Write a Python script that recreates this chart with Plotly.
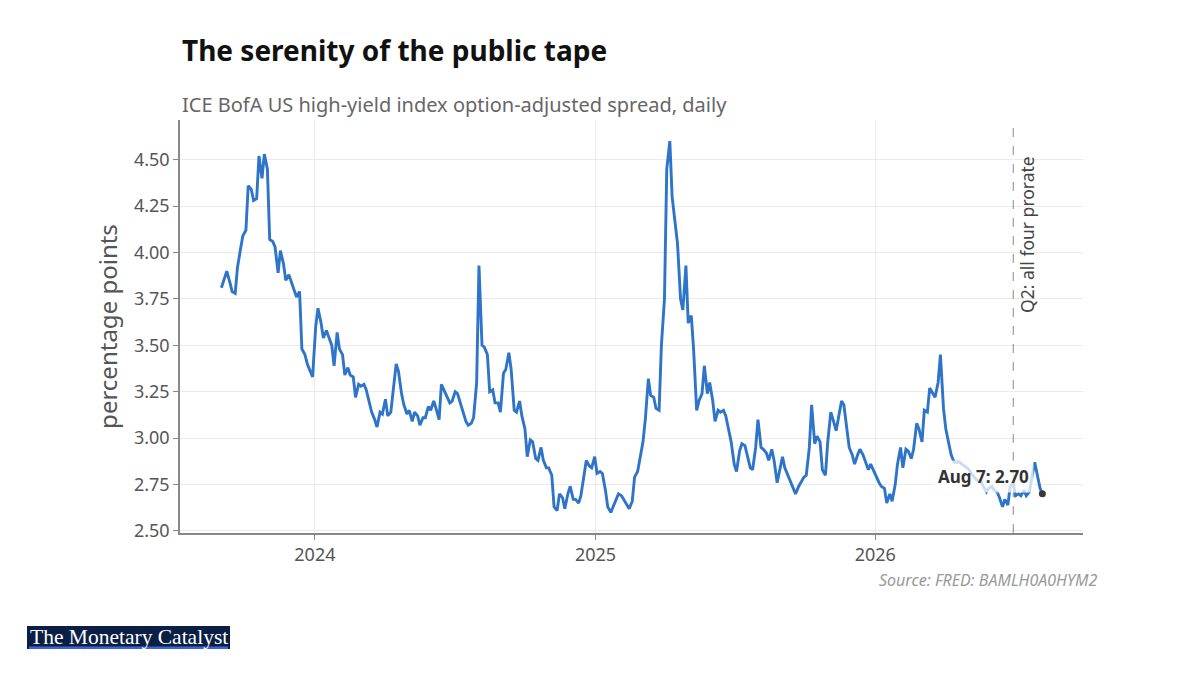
import pandas as pd
import plotly.graph_objects as go

# twice-weekly readings (Tue / Fri) of the daily HY OAS
start_date = "2023-09-01"
end_date = "2026-08-07"
spread = [
    3.81, 3.86, 3.90, 3.84, 3.79, 3.78, 3.92, 4.02, 4.09, 4.12,
    4.36, 4.34, 4.28, 4.29, 4.52, 4.40, 4.53, 4.45, 4.07, 4.06,
    4.03, 3.89, 4.01, 3.94, 3.85, 3.88, 3.84, 3.79, 3.76, 3.79,
    3.48, 3.45, 3.40, 3.36, 3.33, 3.60, 3.70, 3.62, 3.54, 3.58,
    3.54, 3.50, 3.39, 3.57, 3.48, 3.45, 3.34, 3.38, 3.34, 3.33,
    3.22, 3.29, 3.28, 3.29, 3.26, 3.20, 3.14, 3.10, 3.06, 3.14,
    3.13, 3.21, 3.12, 3.14, 3.24, 3.40, 3.36, 3.24, 3.18, 3.13,
    3.15, 3.09, 3.14, 3.12, 3.07, 3.11, 3.11, 3.17, 3.15, 3.20,
    3.16, 3.10, 3.29, 3.25, 3.22, 3.19, 3.20, 3.25, 3.24, 3.19,
    3.14, 3.09, 3.07, 3.08, 3.11, 3.30, 3.93, 3.50, 3.49, 3.45,
    3.25, 3.26, 3.19, 3.19, 3.14, 3.35, 3.37, 3.46, 3.37, 3.15,
    3.14, 3.20, 3.12, 3.05, 2.90, 2.99, 2.98, 2.89, 2.88, 2.95,
    2.88, 2.84, 2.84, 2.80, 2.63, 2.61, 2.70, 2.68, 2.62, 2.70,
    2.74, 2.67, 2.67, 2.65, 2.69, 2.80, 2.88, 2.85, 2.84, 2.90,
    2.81, 2.82, 2.81, 2.72, 2.63, 2.60, 2.63, 2.67, 2.70, 2.69,
    2.67, 2.64, 2.62, 2.66, 2.79, 2.82, 2.88, 2.98, 3.10, 3.32,
    3.23, 3.22, 3.16, 3.15, 3.50, 3.75, 4.45, 4.60, 4.30, 4.14,
    4.05, 3.75, 3.69, 3.93, 3.62, 3.66, 3.48, 3.15, 3.20, 3.24,
    3.39, 3.24, 3.30, 3.20, 3.09, 3.15, 3.14, 3.15, 3.12, 3.04,
    2.98, 2.86, 2.82, 2.93, 2.97, 2.96, 2.91, 2.84, 2.83, 2.95,
    3.10, 2.95, 2.94, 2.92, 2.88, 2.94, 2.88, 2.76, 2.82, 2.90,
    2.84, 2.80, 2.78, 2.74, 2.70, 2.74, 2.76, 2.79, 2.80, 2.95,
    3.18, 2.97, 3.01, 2.98, 2.83, 2.80, 2.98, 3.14, 3.10, 3.04,
    3.11, 3.20, 3.18, 3.05, 2.95, 2.91, 2.86, 2.91, 2.94, 2.91,
    2.88, 2.83, 2.86, 2.82, 2.80, 2.76, 2.74, 2.73, 2.65, 2.70,
    2.66, 2.75, 2.86, 2.95, 2.84, 2.94, 2.93, 2.89, 2.94, 3.08,
    3.05, 2.98, 3.15, 3.14, 3.27, 3.24, 3.22, 3.30, 3.45, 3.16,
    3.05, 2.97, 2.91, 2.87, 2.87, 2.87, 2.86, 2.85, 2.84, 2.82,
    2.80, 2.78, 2.77, 2.765, 2.74, 2.71, 2.73, 2.74, 2.72, 2.71,
    2.68, 2.63, 2.67, 2.64, 2.74, 2.76, 2.69, 2.70, 2.69, 2.72,
    2.69, 2.71, 2.78, 2.87, 2.81, 2.73, 2.70,
]
dates = pd.date_range(start_date, end_date, freq="W-FRI").union(
    pd.date_range(start_date, end_date, freq="W-TUE"))

marker_date = "2026-06-30"
marker_label = "Q2: all four prorate"
last_label = "Aug 7: 2.70"

font = "Noto Sans"
blue = "#2e74c9"

fig = go.Figure()
fig.add_trace(go.Scatter(x=dates, y=spread, mode="lines",
                         line=dict(color=blue, width=2.9), hoverinfo="skip"))
fig.add_trace(go.Scatter(x=[dates[-1]], y=[spread[-1]], mode="markers",
                         marker=dict(color="#3a3a3a", size=7), hoverinfo="skip"))

fig.add_vline(x=marker_date, line_dash="dash", line_color="#888", line_width=1)
fig.add_annotation(x=marker_date, y=4.53, xref="x", yref="y", text=marker_label,
                   textangle=-90, showarrow=False, xanchor="left", yanchor="top",
                   xshift=-1, font=dict(family=font, size=17.5, color="#444"))
fig.add_annotation(x=dates[-1], y=spread[-1], text=last_label, showarrow=False,
                   xanchor="right", yanchor="middle", xshift=-8, yshift=17,
                   bgcolor="rgba(255,255,255,0.75)", borderpad=4,
                   font=dict(family=font, size=17, color="#333", weight="bold"))

# title, subtitle, source
fig.add_annotation(x=0, y=1.0 + 70 / 413, xref="paper", yref="paper", text="The serenity of the public tape",
                   showarrow=False, xanchor="left", yanchor="middle",
                   font=dict(family=font, size=28, color="#111", weight="bold"))
fig.add_annotation(x=0, y=1.0 + 16 / 413, xref="paper", yref="paper",
                   text="ICE BofA US high-yield index option-adjusted spread, daily",
                   showarrow=False, xanchor="left", yanchor="middle",
                   font=dict(family=font, size=20, color="#666"))
fig.add_annotation(x=1.0 + 17 / 903, y=-47 / 413, xref="paper", yref="paper",
                   text="<i>Source: FRED: BAMLH0A0HYM2</i>", showarrow=False,
                   xanchor="right", yanchor="middle",
                   font=dict(family=font, size=16, color="#999"))

# logo block
fig.add_shape(type="rect", xref="paper", yref="paper",
              x0=-153 / 903, x1=50 / 903, y0=-116 / 413, y1=-93 / 413,
              fillcolor="#0b1f45", line_width=0, layer="below")
fig.add_shape(type="rect", xref="paper", yref="paper",
              x0=-151 / 903, x1=48 / 903, y0=-116 / 413, y1=-113.5 / 413,
              fillcolor="#3f63d8", line_width=0)
fig.add_annotation(x=-51.5 / 903, y=-103.5 / 413, xref="paper", yref="paper",
                   text="The Monetary Catalyst", showarrow=False,
                   xanchor="center", yanchor="middle",
                   font=dict(family="Liberation Serif", size=21.5, color="white"))

fig.update_layout(
    width=1200, height=675,
    margin=dict(l=172, r=125, t=112, b=150),
    plot_bgcolor="white", paper_bgcolor="white",
    showlegend=False,
    font=dict(family=font, color="#555"),
    xaxis=dict(range=["2023-07-09", "2026-09-29"], tickvals=["2024-01-01", "2025-01-01", "2026-01-01"],
               ticktext=["2024", "2025", "2026"], showgrid=True, gridcolor="#ebebeb",
               showline=True, linecolor="#888", linewidth=1.5, ticks="outside", ticklen=5,
               tickcolor="#888", tickfont=dict(size=18, color="#555"), zeroline=False),
    yaxis=dict(range=[2.489, 4.714], tickvals=[2.5, 2.75, 3.0, 3.25, 3.5, 3.75, 4.0, 4.25, 4.5],
               tickformat=".2f", showgrid=True, gridcolor="#ebebeb",
               showline=True, linecolor="#888", linewidth=1.5, ticks="outside", ticklen=5,
               tickcolor="#888", tickfont=dict(size=18, color="#555"), zeroline=False,
               title=dict(text="percentage points", font=dict(size=24, color="#555"), standoff=10)),
)

fig.write_html("out.html")
